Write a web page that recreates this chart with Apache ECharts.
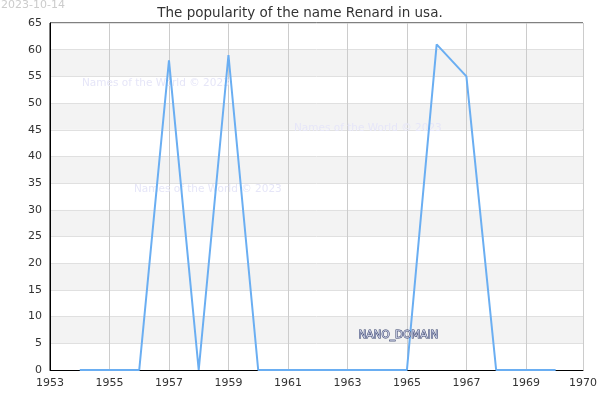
<!DOCTYPE html>
<html>
<head>
<meta charset="utf-8">
<script src="https://cdn.jsdelivr.net/npm/echarts@6/dist/echarts.min.js"></script>
<style>
	html, body { margin: 0; padding: 0; background: #fff; }
	#chart { width: 600px; height: 400px; }
</style>
</head>
<body>
<div id="chart"></div>
<script>
const years = [1954, 1955, 1956, 1957, 1958, 1959, 1960, 1961, 1962, 1963, 1964, 1965, 1966, 1967, 1968, 1969, 1970]
const counts = [0, 0, 0, 58, 0, 59, 0, 0, 0, 0, 0, 0, 61, 55, 0, 0, 0]
const titleText = 'The popularity of the name Renard in usa.'
const dateText = '2023-10-14'
const watermark = 'Names of the World © 2023'

const chart = echarts.init(document.getElementById('chart'))

const wmStyle = {
	text: watermark,
	fill: '#e6e6f8',
	font: '10.5px "DejaVu Sans", sans-serif',
}

const option = {
	animation: false,
	title: {
		text: titleText,
		left: 'center',
		top: 1,
		textStyle: { fontSize: 13.5, fontWeight: 'normal', color: '#333', fontFamily: 'DejaVu Sans' },
	},
	grid: {
		left: 50,
		right: 16,
		top: 23,
		bottom: 30,
		show: true,
		borderColor: '#000',
		borderWidth: 1,
		backgroundColor: 'transparent',
	},
	xAxis: {
		type: 'value',
		min: 1953,
		max: 1970.92,
		interval: 2,
		axisLine: { show: true, lineStyle: { color: '#000' } },
		axisTick: { show: false },
		axisLabel: {
			color: '#333',
			fontSize: 11,
			fontFamily: 'DejaVu Sans',
			showMaxLabel: true,
			formatter: v => String(Math.floor(v)),
		},
		splitLine: { show: true, lineStyle: { color: '#ccc' } },
	},
	yAxis: {
		type: 'value',
		min: 0,
		max: 65,
		interval: 5,
		axisLine: { show: true, lineStyle: { color: '#000' } },
		axisTick: { show: false },
		axisLabel: { color: '#333', fontSize: 11, fontFamily: 'DejaVu Sans' },
		splitLine: { show: true, lineStyle: { color: '#e0e0e0' } },
		splitArea: { show: true, areaStyle: { color: ['#fff', '#f3f3f3'] } },
	},
	series: [
		{
			type: 'line',
			z: 5,
			data: years.map((y, i) => [y, counts[i]]),
			showSymbol: false,
			lineStyle: { color: '#6aaef2', width: 2 },
		},
	],
	graphic: [
		{ type: 'text', left: 1, top: 0, style: { text: dateText, fill: '#ccc', font: '11px "DejaVu Sans", sans-serif' } },
		{ type: 'text', left: 82, top: 78, z: 1, style: wmStyle },
		{ type: 'text', left: 294, top: 123, z: 1, style: wmStyle },
		{ type: 'text', left: 134, top: 184, z: 1, style: wmStyle },
		{
			type: 'text',
			left: 358,
			top: 329,
			z: 100,
			style: {
				text: 'NANO_DOMAIN',
				fill: '#c9cde3',
				stroke: '#2e3a66',
				lineWidth: 1,
				font: '10.5px "DejaVu Sans", sans-serif',
			},
		},
	],
}

chart.setOption(option)
</script>
</body>
</html>
